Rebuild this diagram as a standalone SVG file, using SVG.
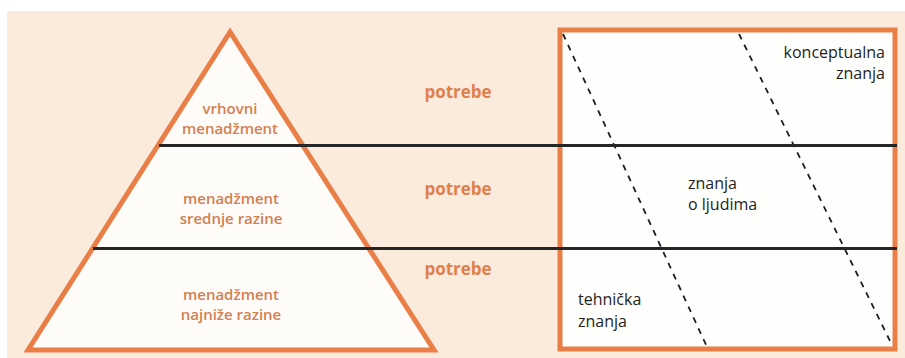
<svg xmlns="http://www.w3.org/2000/svg" width="905" height="358" viewBox="0 0 905 358">
  <style>
    .frame { stroke: #e97f47; stroke-width: 5; stroke-linejoin: miter; }
    .level { font-family: "Open Sans", "Liberation Sans", sans-serif; font-size: 15px; font-weight: 600; fill: #d47f50; text-anchor: middle; }
    .need { font-family: "Open Sans", "Liberation Sans", sans-serif; font-size: 17px; font-weight: 700; fill: #e0804b; text-anchor: middle; }
    .skill { font-family: "Open Sans", "Liberation Sans", sans-serif; font-size: 16px; font-weight: 400; fill: #1e1e1e; }
    .divider { stroke: #262626; stroke-width: 3.2; fill: none; }
    .dash { stroke: #1e1e1e; stroke-width: 1.8; stroke-dasharray: 6 6; fill: none; }
  </style>
  <rect x="0" y="0" width="905" height="358" fill="#ffffff"/>
  <rect x="7" y="11" width="898" height="347" fill="#fbebdd"/>

  <g id="pyramid">
    <polygon points="230,32 28,350 434,350" fill="#fefcf9" class="frame"/>
  </g>

  <g id="knowledge-box">
    <rect x="560" y="30" width="335" height="319" fill="#fefefd" class="frame"/>
  </g>

  <g id="connectors">
    <line class="dash" x1="563" y1="34" x2="707" y2="347"/>
    <line class="dash" x1="739" y1="34" x2="892" y2="345"/>
    <line class="divider" x1="159" y1="145.5" x2="897" y2="145.5"/>
    <line class="divider" x1="93" y1="248.5" x2="897" y2="248.5"/>
  </g>

  <g id="level-top">
    <text class="level" x="230" y="114">vrhovni</text>
    <text class="level" x="230" y="134">menadžment</text>
  </g>
  <g id="level-middle">
    <text class="level" x="231" y="204">menadžment</text>
    <text class="level" x="231" y="224">srednje razine</text>
  </g>
  <g id="level-bottom">
    <text class="level" x="231" y="300">menadžment</text>
    <text class="level" x="231" y="320">najniže razine</text>
  </g>

  <g id="needs">
    <text class="need" x="458" y="98">potrebe</text>
    <text class="need" x="458" y="195">potrebe</text>
    <text class="need" x="458" y="275">potrebe</text>
  </g>

  <g id="skill-conceptual">
    <text class="skill" x="885" y="58" text-anchor="end">konceptualna</text>
    <text class="skill" x="885" y="79" text-anchor="end">znanja</text>
  </g>
  <g id="skill-people">
    <text class="skill" x="688" y="189">znanja</text>
    <text class="skill" x="688" y="210">o ljudima</text>
  </g>
  <g id="skill-technical">
    <text class="skill" x="578" y="305">tehnička</text>
    <text class="skill" x="578" y="327">znanja</text>
  </g>
</svg>
